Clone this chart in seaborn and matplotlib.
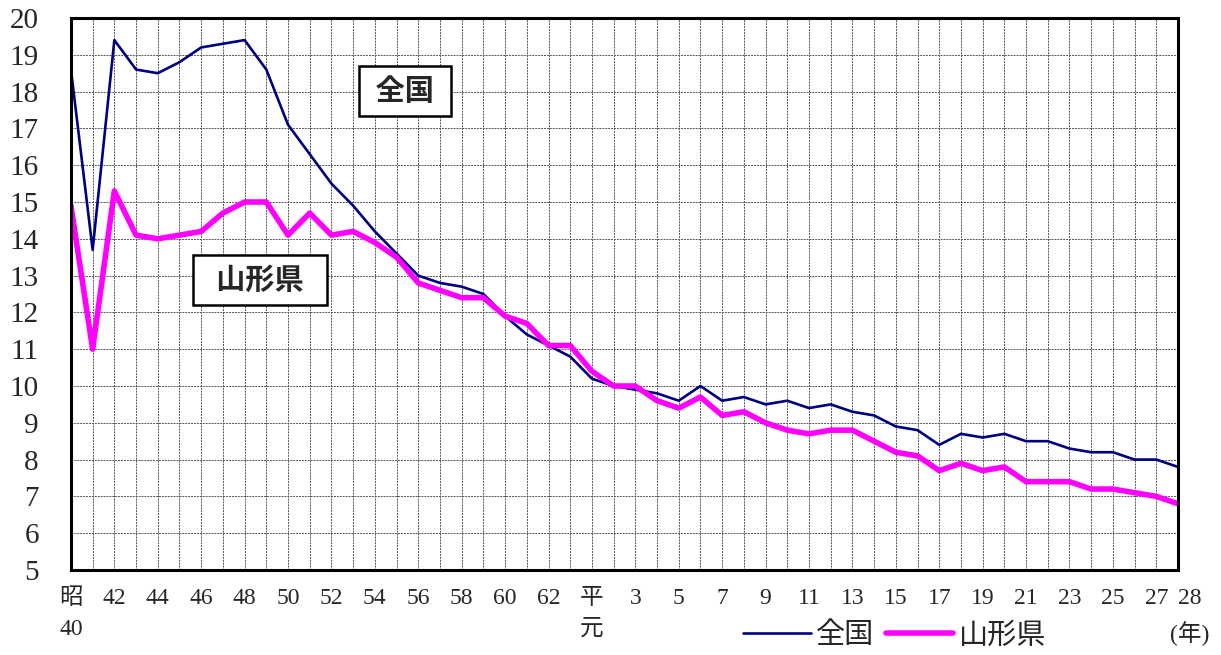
import matplotlib
matplotlib.use("Agg")
import matplotlib.pyplot as plt
import matplotlib.transforms as mtransforms
import seaborn as sns
import pandas as pd

# 出生率（人口千対）昭和40年～平成28年
years = list(range(1965, 2017))
zenkoku = [18.6, 13.7, 19.4, 18.6, 18.5, 18.8, 19.2, 19.3, 19.4, 18.6,
           17.1, 16.3, 15.5, 14.9, 14.2, 13.6, 13.0, 12.8, 12.7, 12.5,
           11.9, 11.4, 11.1, 10.8, 10.2, 10.0, 9.9, 9.8, 9.6, 10.0,
           9.6, 9.7, 9.5, 9.6, 9.4, 9.5, 9.3, 9.2, 8.9, 8.8,
           8.4, 8.7, 8.6, 8.7, 8.5, 8.5, 8.3, 8.2, 8.2, 8.0,
           8.0, 7.8]
yamagata = [14.9, 11.0, 15.3, 14.1, 14.0, 14.1, 14.2, 14.7, 15.0, 15.0,
            14.1, 14.7, 14.1, 14.2, 13.9, 13.5, 12.8, 12.6, 12.4, 12.4,
            11.9, 11.7, 11.1, 11.1, 10.4, 10.0, 10.0, 9.6, 9.4, 9.7,
            9.2, 9.3, 9.0, 8.8, 8.7, 8.8, 8.8, 8.5, 8.2, 8.1,
            7.7, 7.9, 7.7, 7.8, 7.4, 7.4, 7.4, 7.2, 7.2, 7.1,
            7.0, 6.8]
tick_labels = {1965: "昭\n40", 1967: "42", 1969: "44", 1971: "46", 1973: "48",
               1975: "50", 1977: "52", 1979: "54", 1981: "56", 1983: "58",
               1985: "60", 1987: "62", 1989: "平\n元", 1991: "3", 1993: "5",
               1995: "7", 1997: "9", 1999: "11", 2001: "13", 2003: "15",
               2005: "17", 2007: "19", 2009: "21", 2011: "23", 2013: "25",
               2015: "27", 2016: "28\n(年)"}
y_ticks = list(range(5, 21))

df = pd.DataFrame({"year": years, "全国": zenkoku, "山形県": yamagata})

sns.set_style("white")
fonts = ["Liberation Serif", "Noto Sans CJK JP", "DejaVu Sans"]
plt.rcParams["font.family"] = fonts

fig = plt.figure(figsize=(12.21, 6.55), dpi=100)
ax = fig.add_axes([0.0581, 0.1298, 0.9067, 0.8427])

sns.lineplot(data=df, x="year", y="全国", color="#000080", linewidth=1.9, ax=ax, label="全国")
sns.lineplot(data=df, x="year", y="山形県", color="#FF00FF", linewidth=4.0, ax=ax, label="山形県")

ax.set_xlim(years[0], years[-1])
ax.set_ylim(5, 20)
ax.set_xticks(years)
ax.set_xticklabels([tick_labels.get(y, "") for y in years], fontsize=17, linespacing=1.6)
ax.set_yticks(y_ticks)
ax.set_yticklabels([str(v) for v in y_ticks], fontsize=21)
ax.tick_params(axis="both", length=0)
ax.tick_params(axis="x", pad=13)
ax.tick_params(axis="y", pad=23)
ax.set_xlabel("")
ax.set_ylabel("")

# shift the last label slightly right
last = ax.get_xticklabels()[-1]
last.set_transform(last.get_transform() + mtransforms.ScaledTranslation(0.12, 0, fig.dpi_scale_trans))

ax.grid(True, color="#555555", linestyle=(0, (2, 1)), linewidth=0.7)
for s in ax.spines.values():
    s.set_visible(True)
    s.set_color("black")
    s.set_linewidth(2.2)

box = dict(boxstyle="square,pad=0.35", facecolor="white", edgecolor="black", linewidth=1.8)
ax.text(1980.4, 18.02, " 全国 ", fontsize=21, fontweight="bold", ha="center", va="center",
        family=["Noto Sans CJK JP"], bbox=box)
ax.text(1973.7, 12.88, "  山形県  ", fontsize=21, fontweight="bold", ha="center", va="center",
        family=["Noto Sans CJK JP"], bbox=box)

ax.legend_.remove()
handles, labels = ax.get_legend_handles_labels()
fig.legend(handles, labels, loc="center", bbox_to_anchor=(0.733, 0.029), ncol=2, frameon=False,
           fontsize=21, handlelength=2.3, handletextpad=0.2, columnspacing=0.4)

fig.savefig("out.png", dpi=100)
